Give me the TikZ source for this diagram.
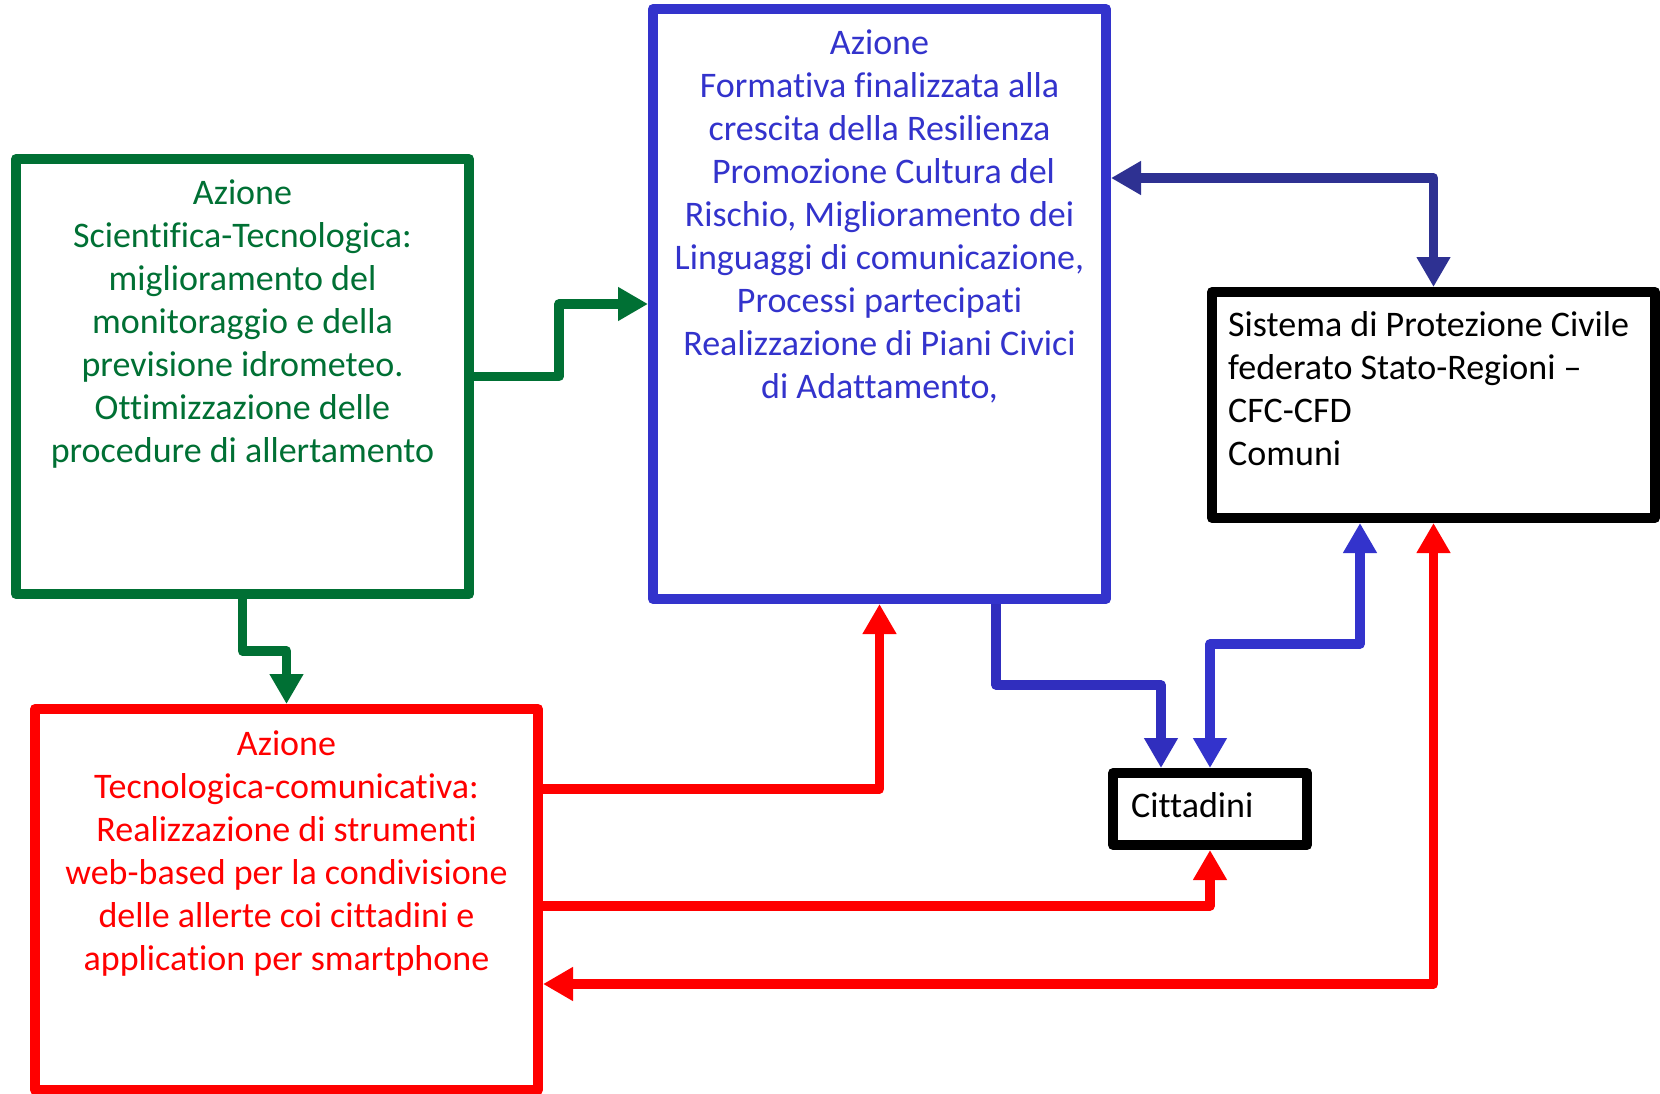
\documentclass[tikz,border=0pt]{standalone}
\usepackage{fontspec}
\setmainfont[Ligatures=NoCommon]{Carlito}
\usetikzlibrary{arrows.meta}
\definecolor{cgreen}{RGB}{0,112,52}
\definecolor{cblue}{RGB}{51,51,204}
\definecolor{cblueb}{RGB}{48,46,190}
\definecolor{cnavy}{RGB}{46,49,146}
\definecolor{cred}{RGB}{255,0,0}
\begin{document}
\begin{tikzpicture}[x=1pt,y=-1pt,
  box/.style={draw, line width=10pt, inner sep=0pt, line join=round, fill=white},
  txt/.style={inner sep=0pt, font=\fontsize{36}{43}\selectfont, align=center},
  tipA/.tip={Triangle[width=32pt,length=30pt]},
  conn/.style={line width=9.5pt, line join=round, -tipA},
  conntwo/.style={line width=9.5pt, line join=round, tipA-tipA},
]
\useasboundingbox[fill=white] (0,0) rectangle (1660,1094);

% boxes
\node[box, draw=cgreen, minimum width=453pt, minimum height=435pt] (green) at (242.5,376.5) {};
\node[box, draw=cblue, minimum width=453pt, minimum height=590pt] (blue) at (879.5,304) {};
\node[box, draw=black, minimum width=443pt, minimum height=226pt] (sys) at (1433.5,405) {};
\node[box, draw=black, minimum width=194pt, minimum height=72pt] (citt) at (1210,809) {};
\node[box, draw=cred, minimum width=503pt, minimum height=381pt] (red) at (286.5,899.5) {};

% texts
\node[txt, text=cgreen, anchor=north] (gtxt) at (242.5,174) {\strut Azione\\
Scientifica-Tecnologica:\\
miglioramento del\\
monitoraggio e della\\
previsione idrometeo.\\
Ottimizzazione delle\\
procedure di allertamento};
\node[txt, text=cblue, anchor=north] (btxt) at (879.5,24) {\strut Azione\\
Formativa finalizzata alla\\
crescita della Resilienza\\
\ Promozione Cultura del\\
Rischio, Miglioramento dei\\
Linguaggi di comunicazione,\\
Processi partecipati\\
Realizzazione di Piani Civici\\
di Adattamento,};
\node[txt, text=cred, anchor=north] (rtxt) at (286.5,725) {\strut Azione\\
Tecnologica-comunicativa:\\
Realizzazione di strumenti\\
web-based per la condivisione\\
delle allerte coi cittadini e\\
application per smartphone};
\node[txt, text=black, anchor=north west, align=left] (stxt) at (1228,306) {\strut Sistema di Protezione Civile\\
federato Stato-Regioni –\\
CFC-CFD\\
Comuni};
\node[txt, text=black, anchor=base west] (ctxt) at (1131,817) {Cittadini};

% connectors
\draw[conn, cgreen] (green.east) -- ++(85,0) |- (blue.west);
\draw[conn, cgreen] (green.south) -- ++(0,52) -| (red.north);
\draw[conntwo, cnavy] (blue.east |- 0,178) -| (sys.north);
\draw[conn, cblueb] (996,0 |- blue.south) -- (996,685) -| ([xshift=-49pt]citt.north);
\draw[conntwo, cblue] (citt.north) -- (1210,644) -| ([xshift=-73.5pt]sys.south);
\draw[conn, cred] (red.east |- 0,789) -| (blue.south);
\draw[conn, cred] (red.east |- 0,906) -| (citt.south);
\draw[conntwo, cred] (red.east |- 0,984) -| (sys.south);
\end{tikzpicture}
\end{document}
